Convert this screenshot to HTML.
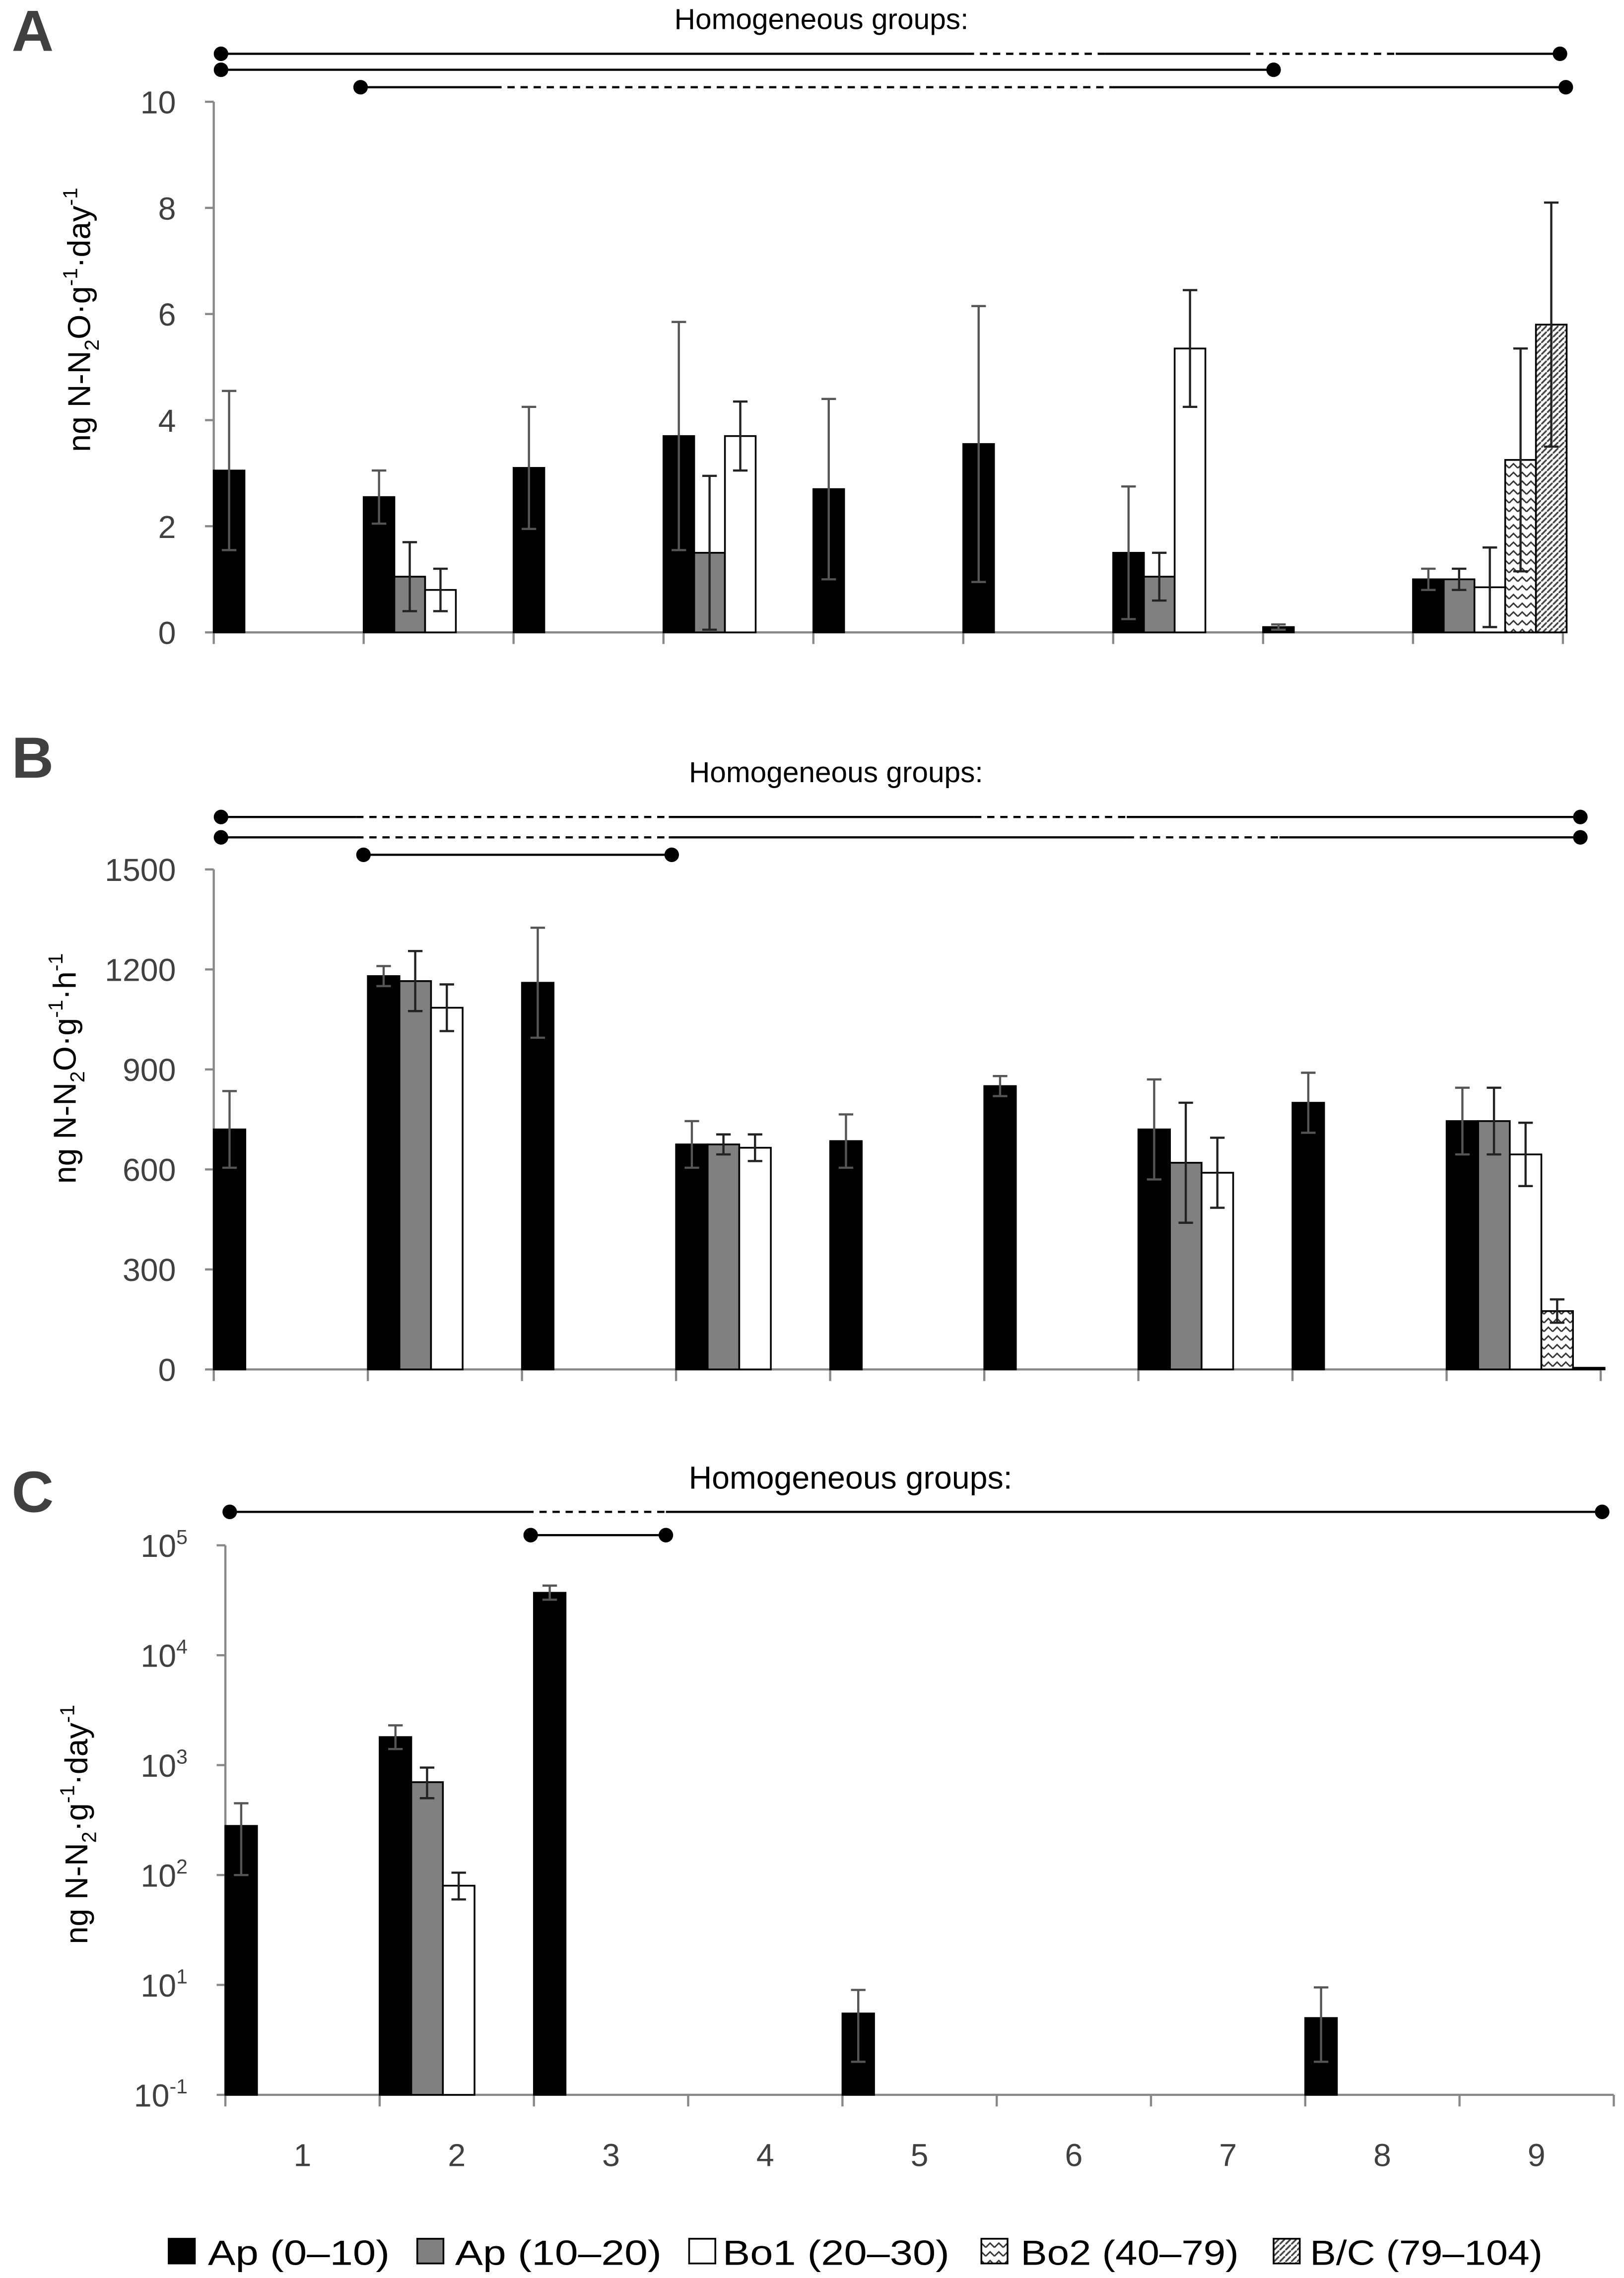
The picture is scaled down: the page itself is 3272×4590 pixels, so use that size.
<!DOCTYPE html>
<html><head><meta charset="utf-8"><style>
html,body{margin:0;padding:0;background:#fff}
svg{display:block}
text{font-family:"Liberation Sans",sans-serif}
</style></head><body>
<svg id="chart" width="3272" height="4590" viewBox="0 0 1117 1567" xmlns="http://www.w3.org/2000/svg">
<defs>
<pattern id="zig" width="6" height="6" patternUnits="userSpaceOnUse"><rect width="6" height="6" fill="#fff"/><path d="M0,4 L3,1 L6,4" stroke="#333" stroke-width="1" fill="none"/></pattern>
<pattern id="dots" width="4" height="4" patternUnits="userSpaceOnUse"><rect width="4" height="4" fill="#fff"/><path d="M0,4 L4,0" stroke="#444" stroke-width="1.2"/></pattern>
</defs>
<g id="root"></g>
</svg>
<script>
// Categories
const categories = ["1","2","3","4","5","6","7","8","9"];
const seriesNames = ["Ap (0–10)","Ap (10–20)","Bo1 (20–30)","Bo2 (40–79)","B/C (79–104)"];
// Panel A values [group][series]
const aVals = [[3.05],[2.55,1.05,0.8],[3.1],[3.7,1.5,3.7],[2.7],[3.55],[1.5,1.05,5.35],[0.1],[1.0,1.0,0.85,3.25,5.8]];
const aErr  = [[1.5],[0.5,0.65,0.4],[1.15],[2.15,1.45,0.65],[1.7],[2.6],[1.25,0.45,1.1],[0.05],[0.2,0.2,0.75,2.1,2.3]];
const aTicks = [0,2,4,6,8,10];
// Panel B
const bVals = [[720],[1180,1165,1085],[1160],[675,675,665],[685],[850],[720,620,590],[800],[745,745,645,175,5]];
const bErr  = [[115],[30,90,70],[165],[70,30,40],[80],[30],[150,180,105],[90],[100,100,95,35,0]];
const bTicks = [0,300,600,900,1200,1500];
// Panel C (log) value, low, high
const cVals = [[280],[1800,700,80],[37000],[],[5.5],[],[],[5],[]];
const cLow  = [[100],[1400,500,60],[32000],[],[2],[],[],[2],[]];
const cHigh = [[450],[2300,950,105],[43000],[],[9],[],[],[9.5],[]];
const cTicks = [1,10,100,1000,10000,100000];
const cTickLabels = ["-1","1","2","3","4","5"];

const NS="http://www.w3.org/2000/svg";
const root=document.getElementById('root');
function el(tag,attrs,parent){const e=document.createElementNS(NS,tag);for(const k in attrs)e.setAttribute(k,attrs[k]);(parent||root).appendChild(e);return e;}
const fills=["#000","#808080","#fff","url(#zig)","url(#dots)"];

function panel(cfg){
  const g=el('g',{});
  
  
  const gw=(cfg.x1-cfg.x0)/9, bw=gw*0.205;
  const ya=el('line',{x1:cfg.x0,y1:cfg.yTop,x2:cfg.x0,y2:cfg.y0,stroke:'#888','stroke-width':1.5},g);
  
  const xa=el('line',{x1:cfg.x0,y1:cfg.y0,x2:cfg.x1,y2:cfg.y0,stroke:'#888','stroke-width':1.5},g);
  
  for(let i=0;i<=9;i++){const t=el('line',{x1:cfg.x0+i*gw,y1:cfg.y0,x2:cfg.x0+i*gw,y2:cfg.y0+8,stroke:'#888','stroke-width':1.5},g);
    }
  cfg.ticks.forEach((v,i)=>{const y=cfg.sy(v);
    el('line',{x1:cfg.x0-6,y1:y,x2:cfg.x0,y2:y,stroke:'#888','stroke-width':1.5},g);
    const t=el('text',{x:cfg.x0-26,y:y+8,'text-anchor':'end','font-size':22,fill:'#404040'},g);
    
    if(cfg.log){t.textContent='10';const s=el('tspan',{'font-size':14,dy:-9},t);s.textContent=cfg.tickLabels[i];}
    else t.textContent=v;});
  cfg.vals.forEach((grp,gi)=>{grp.forEach((v,si)=>{
    const x=cfg.x0+gi*gw+si*bw; const yt=cfg.sy(v);
    const r=el('rect',{x:x,y:yt,width:bw,height:Math.max(0,cfg.y0-yt),fill:fills[si],stroke:'#000','stroke-width':1.2},g);
    
    const lo=cfg.lo(gi,si), hi=cfg.hi(gi,si);
    if(hi!==lo){const cx=x+bw/2;
      const e=el('path',{d:`M${cx},${cfg.sy(hi)}V${cfg.sy(lo)}M${cx-5},${cfg.sy(hi)}h10M${cx-5},${cfg.sy(lo)}h10`,stroke:si==0?'#555':'#222','stroke-width':1.5,fill:'none'},g);
      }
  });});
  const yt=el('text',{transform:`translate(${cfg.titleX},${cfg.titleY}) rotate(-90)`,'text-anchor':'middle','font-size':22,fill:'#000'},g);
  
  yt.innerHTML=cfg.title;
  const L=el('text',{x:8,y:cfg.letterY,'font-size':40,'font-weight':'bold',fill:'#404040'},g);
  L.textContent=cfg.letter;
  const ht=el('text',{x:cfg.hx,y:cfg.hy,'text-anchor':'middle','font-size':cfg.hfs,fill:'#000'},g);
  ht.textContent='Homogeneous groups:';
  cfg.lines.forEach(ln=>{
    const y=ln[0], segs=ln[1];
    segs.forEach(s=>{const l=el('line',{x1:s[0],y1:y,x2:s[1],y2:y,stroke:'#000','stroke-width':1.5},g);
      if(s[2])l.setAttribute('stroke-dasharray','5,4');
      });
    [segs[0][0],segs[segs.length-1][1]].forEach(x=>{const c=el('circle',{cx:x,cy:y,r:5,fill:'#000'},g);
      });
  });
}
panel({name:'panel-a',letter:'A',letterY:35,x0:147,x1:1075,y0:435,yTop:70,ticks:aTicks,
  sy:v=>435-v*36.5,vals:aVals,lo:(g,s)=>aVals[g][s]-aErr[g][s],hi:(g,s)=>aVals[g][s]+aErr[g][s],
  titleX:62,titleY:220,title:'ng N-N<tspan font-size="14" dy="6">2</tspan><tspan dy="-6">O·g</tspan><tspan font-size="14" dy="-9">-1</tspan><tspan dy="9">·day</tspan><tspan font-size="14" dy="-9">-1</tspan>',
  hx:565,hy:20,hfs:20,
  lines:[[37,[[152,665],[665,760,1],[760,855],[855,960,1],[960,1073]]],[48,[[152,876]]],[60,[[248,340],[340,765,1],[765,1077]]]]});
panel({name:'panel-b',letter:'B',letterY:535,x0:147,x1:1101,y0:942,yTop:598,ticks:bTicks,
  sy:v=>942-v*0.2293,vals:bVals,lo:(g,s)=>bVals[g][s]-bErr[g][s],hi:(g,s)=>bVals[g][s]+bErr[g][s],
  titleX:52,titleY:735,title:'ng N-N<tspan font-size="14" dy="6">2</tspan><tspan dy="-6">O·g</tspan><tspan font-size="14" dy="-9">-1</tspan><tspan dy="9">·h</tspan><tspan font-size="14" dy="-9">-1</tspan>',
  hx:575,hy:538,hfs:20,
  lines:[[562,[[152,245],[245,460,1],[460,670],[670,775,1],[775,1087]]],[576,[[152,245],[245,460,1],[460,775],[775,880,1],[880,1087]]],[588,[[250,462]]]]});
panel({name:'panel-c',letter:'C',letterY:1040,x0:155,x1:1110,y0:1441,yTop:1063,ticks:cTicks,tickLabels:cTickLabels,log:true,
  sy:v=>1441-(v>0?Math.log10(v):0)*75.6,vals:cVals,lo:(g,s)=>cLow[g][s],hi:(g,s)=>cHigh[g][s],
  titleX:60,titleY:1255,title:'ng N-N<tspan font-size="14" dy="6">2</tspan><tspan dy="-6">·g</tspan><tspan font-size="14" dy="-9">-1</tspan><tspan dy="9">·day</tspan><tspan font-size="14" dy="-9">-1</tspan>',
  hx:585,hy:1024,hfs:22,
  lines:[[1040,[[158,362],[362,458,1],[458,1102]]],[1056,[[365,458]]]]});
categories.forEach((c,i)=>{const t=el('text',{x:155+(i+0.5)*106.1,y:1490,'text-anchor':'middle','font-size':22,fill:'#404040'});
  t.textContent=c;});
const legX=[116,287,474,675,876];
const legTX=[143,313,497,702,901];
const legTW=[125,142,156,150,160];
seriesNames.forEach((n,i)=>{
  const r=el('rect',{x:legX[i],y:1540,width:18,height:17,fill:fills[i],stroke:'#000','stroke-width':1.2});
  
  const t=el('text',{x:legTX[i],y:1558,'font-size':24,fill:'#000',textLength:legTW[i],lengthAdjust:'spacingAndGlyphs'});
  t.textContent=n;});
</script>
</body></html>
